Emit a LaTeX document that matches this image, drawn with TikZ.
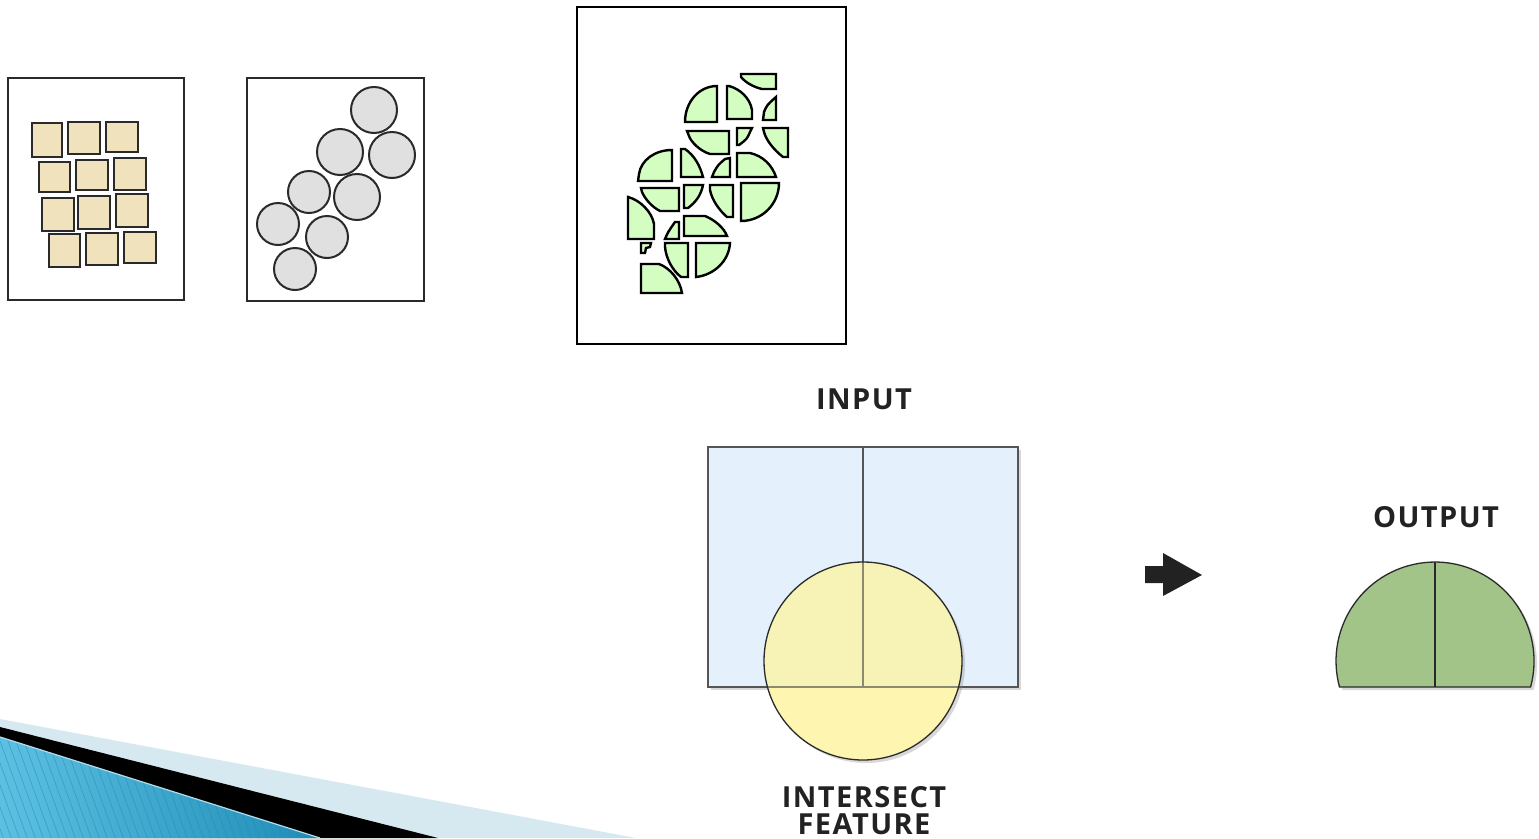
\documentclass[tikz,border=0pt]{standalone}
\usepackage{fontspec}
\newfontfamily\labfont{Open Sans}[LetterSpace=5]
\usetikzlibrary{shadows}
\definecolor{sqfill}{HTML}{F0E2BD}
\definecolor{cirfill}{HTML}{E0E0E0}
\definecolor{greenfill}{HTML}{D4FDC2}
\definecolor{inblue}{HTML}{E4F0FB}
\definecolor{inyellow}{HTML}{FDF5B0}
\definecolor{inmix}{HTML}{F7F3B6}
\definecolor{outgreen}{HTML}{A2C488}
\definecolor{darkline}{HTML}{2A2A2A}
\definecolor{grayline}{HTML}{555555}
\definecolor{oliveline}{HTML}{8C8A72}
\definecolor{declight}{HTML}{D6E9F0}
\definecolor{decblueA}{HTML}{5CC0E2}
\definecolor{decblueB}{HTML}{1E8BB5}
\definecolor{labcol}{HTML}{222222}
\tikzset{
  framebox/.style={draw=darkline,line width=1.6,fill=white},
  bigframe/.style={draw=black,line width=2.6,fill=white},
  sqshape/.style={draw=darkline,line width=2,fill=sqfill},
  cirshape/.style={draw=darkline,line width=2,fill=cirfill},
  piece/.style={draw=black,line width=2.4,fill=greenfill,line join=miter},
  lab/.style={font=\labfont\fontsize{29}{27}\selectfont\bfseries,text=labcol,inner sep=0,anchor=base,align=center},
  softshadow/.style={drop shadow={opacity=0.3,shadow xshift=3pt,shadow yshift=-3pt}},
  stripe/.style={draw=decblueB,line width=0.8,opacity=0.45}
}
\begin{document}
\begin{tikzpicture}[x=1pt,y=-1pt]
\useasboundingbox (0,0) rectangle (1539,838);
\fill[white] (0,0) rectangle (1539,838);

% decoration bottom-left
\fill[declight] (0,719) -- (636,838) -- (0,838) -- cycle;
\fill[black] (0,727) -- (438,838) -- (0,838) -- cycle;
\begin{scope}
  \clip (0,737) -- (320,838) -- (0,838) -- cycle;
  \shade[left color=decblueA,right color=decblueB] (0,730) rectangle (330,838);
  \foreach \i in {-60,-52,...,330} \draw[stripe] (\i,730) -- ++(40,110);
\end{scope}
\draw[declight!70!decblueA,line width=1.2] (0,737) -- (320,838);

% left frame with squares
\draw[framebox] (8,78) rectangle (184,300);
\foreach \a/\b/\c/\d in {32/123/62/157, 68/122/100/154, 106/122/138/152,
  39/162/70/192, 76/160/108/190, 114/158/146/190,
  42/198/74/231, 78/196/110/229, 116/194/148/227,
  49/234/80/267, 86/233/118/265, 124/232/156/263}
  \draw[sqshape] (\a,\b) rectangle (\c,\d);

% second frame with circles
\draw[framebox] (247,78) rectangle (424,301);
\foreach \x/\y/\r in {374/110/23, 340/152/23, 392/155/23, 309/192/21,
  357/197/23, 278/224/21, 327/237/21, 295/269/21}
  \draw[cirshape] (\x,\y) circle[radius=\r pt];

% result frame with pieces
\draw[bigframe] (577,7) rectangle (846,344);
\draw[piece] (741,74) -- (776,74) -- (776,89) -- (762,89) .. controls (753,87) and (745,82) .. (741,77) -- cycle;
\draw[piece] (717,122) -- (685,122) .. controls (685,102) and (699,86) .. (717,86) -- cycle;
\draw[piece] (727,86) -- (727,119) -- (752,119) -- (752,110) .. controls (750,98) and (740,89) .. (729,86) -- cycle;
\draw[piece] (776,97) -- (776,120) -- (763,120) -- (764,112) .. controls (767,105) .. (776,97) -- cycle;
\draw[piece] (687,131) -- (729,131) -- (729,154) -- (710,154) .. controls (700,151) and (691,142) .. (689,136) -- cycle;
\draw[piece] (737,128) -- (752,128) -- (750,132) .. controls (747,139) .. (739,145) -- (737,145) -- cycle;
\draw[piece] (763,128) -- (788,128) -- (788,157) -- (783,157) .. controls (774,150) and (766,140) .. (764,132) -- cycle;
\draw[piece] (672,150) -- (672,181) -- (638,181) -- (639,174) .. controls (641,160) and (655,150) .. (672,150) -- cycle;
\draw[piece] (681,149) -- (685,149) .. controls (695,156) and (700,166) .. (703,177) -- (681,177) -- cycle;
\draw[piece] (730,158) -- (730,177) -- (712,177) -- (714,172) .. controls (718,165) .. (725,159) -- cycle;
\draw[piece] (737,153) -- (750,153) .. controls (763,156) and (772,165) .. (776,177) -- (737,177) -- cycle;
\draw[piece] (641,188) -- (679,188) -- (679,211) -- (660,211) .. controls (652,207) and (645,199) .. (642,192) -- cycle;
\draw[piece] (684,185) -- (703,185) .. controls (701,195) and (696,202) .. (688,208) -- (684,208) -- cycle;
\draw[piece] (710,185) -- (733,185) -- (733,217) -- (727,217) .. controls (719,210) and (712,200) .. (710,190) -- cycle;
\draw[piece] (741,183) -- (779,183) .. controls (779,204) and (762,221) .. (741,221) -- cycle;
\draw[piece] (628,197) .. controls (640,200) and (652,212) .. (654,224) -- (654,239) -- (628,239) -- cycle;
\draw[piece] (675,222) -- (679,222) -- (679,239) -- (665,239) .. controls (668,232) .. (675,222) -- cycle;
\draw[piece] (684,216) -- (705,216) .. controls (715,220) and (724,228) .. (727,236) -- (684,236) -- cycle;
\draw[piece] (641,243) -- (651,243) -- (650,247) -- (646,248) -- (645,253) -- (641,253) -- cycle;
\draw[piece] (665,243) -- (688,243) -- (688,277) -- (681,277) .. controls (672,270) and (666,258) .. (665,247) -- cycle;
\draw[piece] (696,243) -- (730,243) .. controls (729,261) and (714,275) .. (696,277) -- cycle;
\draw[piece] (641,264) -- (659,264) .. controls (670,268) and (680,280) .. (682,293) -- (641,293) -- cycle;

% input diagram
\node[lab] (input) at (864,409) {INPUT};
\path[softshadow,fill=inblue,draw=grayline,line width=1.3] (708,447) rectangle (1018,687);
\draw[grayline,line width=1.3] (863,447) -- (863,687);
\path[softshadow,fill=inyellow] (863,661) circle[radius=99pt];
\begin{scope}
  \clip (863,661) circle[radius=99pt];
  \fill[inmix] (708,447) rectangle (1018,687);
  \draw[oliveline,line width=2.2] (863,447) -- (863,687);
  \draw[oliveline,line width=2.2] (700,687) -- (1030,687);
\end{scope}
\draw[darkline,line width=1.3] (863,661) circle[radius=99pt];
\node[lab] (isect) at (864,834) {INTERSECT\\FEATURE};

% arrow
\fill[labcol] (1145,566) -- (1163,566) -- (1163,553) -- (1202,575) -- (1163,596) -- (1163,583) -- (1145,583) -- cycle;

% output
\node[lab] (output) at (1436,527) {OUTPUT};
\path[softshadow,fill=outgreen,draw=darkline,line width=1.3] (1339.5,687) arc[start angle=164.8,end angle=375.2,radius=99] -- cycle;
\draw[darkline,line width=1.3] (1435,562) -- (1435,687);
\end{tikzpicture}
\end{document}
